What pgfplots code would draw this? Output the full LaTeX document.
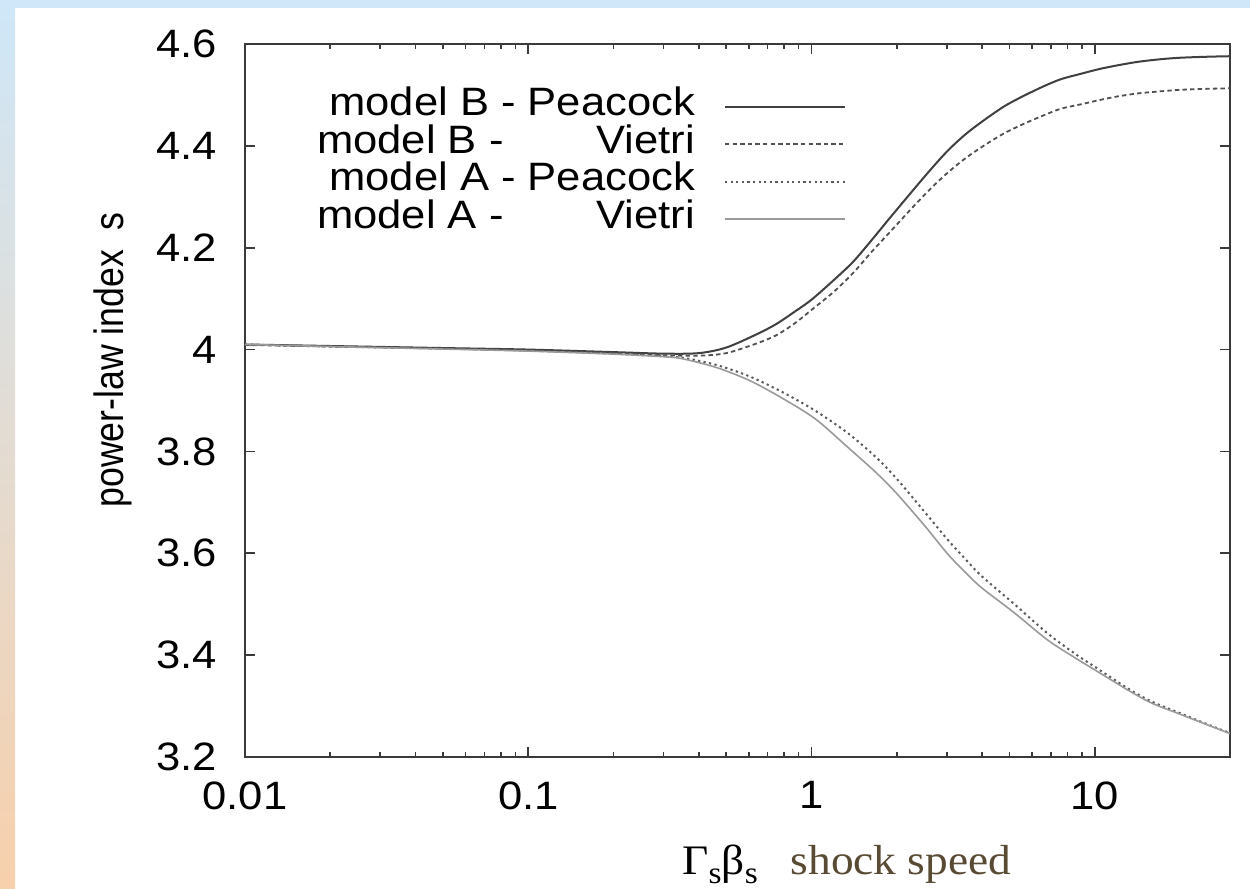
\documentclass[border=0pt]{standalone}
\usepackage{pgfplots}
\pgfplotsset{compat=1.18}
\usepackage{fontspec}
\setmainfont{Liberation Sans}[FakeStretch=1.1]
\newfontfamily\ylabfont{Liberation Sans}[FakeStretch=0.87]
\newfontfamily\serif{Liberation Serif}[FakeStretch=1.08]
\definecolor{bandblue}{HTML}{CFE7F8}
\definecolor{bandpeach}{HTML}{F7D0AC}
\definecolor{axisgray}{HTML}{3A3A3A}
\definecolor{brownlab}{HTML}{594A33}
\definecolor{cB}{HTML}{404040}
\definecolor{cBV}{HTML}{505050}
\definecolor{cAP}{HTML}{5A5A5A}
\definecolor{cAV}{HTML}{9A9A9A}

\pgfplotstableread{
x y
0.01 4.010
0.02 4.007
0.05 4.003
0.1 4.000
0.2 3.995
0.3 3.992
0.4 3.993
0.5 4.004
0.64 4.030
0.75 4.050
0.875 4.075
1.0 4.098
1.19 4.135
1.4 4.172
1.63 4.215
1.9 4.260
2.22 4.305
2.6 4.350
3.02 4.390
3.5 4.423
4.1 4.452
4.8 4.478
5.6 4.498
6.6 4.517
7.6 4.531
9.0 4.542
10.4 4.551
12.0 4.558
14.2 4.565
17.0 4.570
20.0 4.573
25.0 4.575
30.0 4.576
}\BPeacock

\pgfplotstableread{
x y
0.01 4.009
0.02 4.006
0.05 4.002
0.1 3.998
0.2 3.993
0.3 3.989
0.4 3.988
0.5 3.993
0.64 4.012
0.75 4.028
0.875 4.052
1.0 4.078
1.19 4.112
1.4 4.150
1.63 4.192
1.9 4.232
2.22 4.273
2.6 4.313
3.02 4.347
3.5 4.376
4.1 4.402
4.8 4.425
5.6 4.443
6.6 4.460
7.6 4.473
9.0 4.482
10.4 4.490
12.0 4.497
14.2 4.503
17.0 4.507
20.0 4.510
25.0 4.512
30.0 4.513
}\BVietri

\pgfplotstableread{
x y
0.01 4.010
0.02 4.006
0.05 4.002
0.1 3.998
0.2 3.992
0.3 3.987
0.35 3.984
0.46 3.970
0.6 3.948
0.78 3.918
1.03 3.880
1.35 3.835
1.7 3.787
2.0 3.746
2.5 3.682
3.03 3.626
3.5 3.588
3.97 3.556
5.2 3.500
6.8 3.443
8.5 3.403
10.0 3.377
13.4 3.331
16.0 3.308
20.0 3.286
25.0 3.264
30.0 3.247
}\APeacock

\pgfplotstableread{
x y
0.01 4.010
0.02 4.006
0.05 4.001
0.1 3.997
0.2 3.991
0.3 3.986
0.35 3.982
0.46 3.965
0.6 3.940
0.78 3.906
1.03 3.864
1.35 3.807
1.7 3.757
2.0 3.717
2.5 3.655
3.03 3.598
3.5 3.562
3.97 3.533
5.2 3.483
6.8 3.430
8.5 3.395
10.0 3.371
13.4 3.328
16.0 3.305
20.0 3.284
25.0 3.263
30.0 3.246
}\AVietri

\begin{document}
\begin{tikzpicture}[font=\fontsize{19.8bp}{23bp}\selectfont]
% background
\fill[white] (0,0) rectangle (625bp,444.5bp);
\shade[top color=bandblue, bottom color=bandpeach] (0,0) rectangle (7.5bp,444.5bp);
\fill[bandblue] (0,440.5bp) rectangle (625bp,444.5bp);
\begin{axis}[
  at={(122.5bp,66bp)}, anchor=south west,
  scale only axis,
  width=492.5bp, height=356.5bp,
  xmode=log,
  xmin=0.01, xmax=30,
  ymin=3.2, ymax=4.6,
  axis line style={axisgray, line width=1.1bp},
  every tick/.style={axisgray, line width=0.8bp},
  tick align=inside,
  major tick length=5bp,
  minor tick length=2.5bp,
  xtick={0.01,0.1,1,10},
  xticklabels={0.01,0.1,1,10},
  ytick={3.2,3.4,3.6,3.8,4,4.2,4.4,4.6},
  yticklabels={3.2,3.4,3.6,3.8,4,4.2,4.4,4.6},
  minor ytick={},
  /pgf/number format/assume math mode=true,
  ticklabel style={inner sep=0pt, font=\fontsize{19.8bp}{23bp}\selectfont},
  xticklabel style={anchor=north, yshift=-12bp},
  yticklabel style={anchor=east, xshift=-14bp},
  ylabel={power-law index\ \ s},
  ylabel style={at={(axis description cs:-0.134,0.557)}, anchor=center, font=\ylabfont\fontsize{20.5bp}{24bp}\selectfont},
  xlabel={{\serif\fontsize{21bp}{24bp}\selectfont Γ\raisebox{-0.22em}{\fontsize{15.5bp}{16bp}\selectfont s}β\raisebox{-0.22em}{\fontsize{15.5bp}{16bp}\selectfont s}\hspace{16.5bp}\textcolor{brownlab}{shock speed}}},
  xlabel style={at={(axis description cs:0.611,0)}, anchor=base, yshift=-58.5bp, inner sep=0pt},
  legend plot pos=right,
  legend cell align=right,
  legend style={at={(axis description cs:0.6102,0.9383)}, anchor=north east, draw=none, fill=none,
    inner sep=0pt, outer sep=0pt, row sep=0pt, column sep=14.5bp,
    nodes={inner sep=0pt, text height=14bp, text depth=4.75bp},
    font=\fontsize{19.8bp}{23bp}\selectfont},
  legend image code/.code={\draw[#1] (0bp,0bp) -- (60bp,0bp);},
]
\addplot[cB, line width=1bp, smooth] table {\BPeacock};
\addlegendentry{model B - Peacock}
\addplot[cBV, line width=0.9bp, dash pattern=on 2.2bp off 1.6bp, smooth] table {\BVietri};
\addlegendentry{model B -\hspace{46.5bp}Vietri}
\addplot[cAP, line width=1bp, dash pattern=on 1.1bp off 1.7bp, smooth] table {\APeacock};
\addlegendentry{model A - Peacock}
\addplot[cAV, line width=0.8bp, smooth] table {\AVietri};
\addlegendentry{model A -\hspace{46.5bp}Vietri}
\end{axis}
\end{tikzpicture}
\end{document}
